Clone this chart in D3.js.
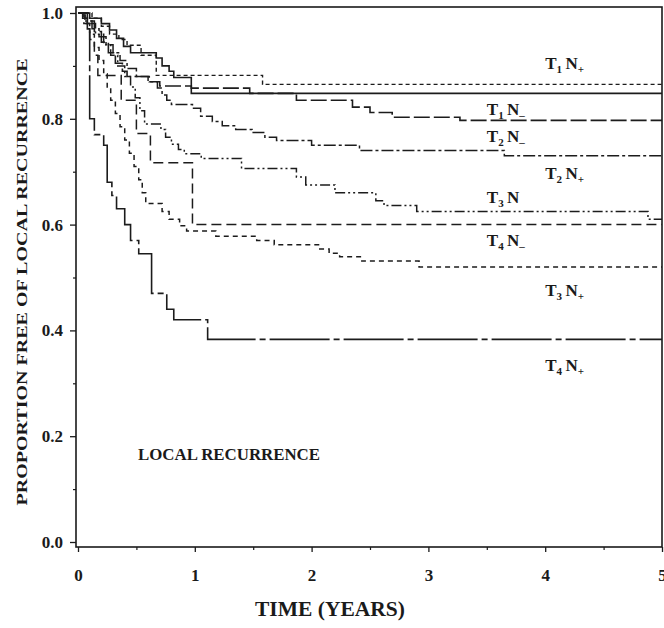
<!DOCTYPE html>
<html><head><meta charset="utf-8">
<script src="https://cdn.jsdelivr.net/npm/d3@7"></script>
<style>
body{margin:0;background:#fff}
svg{display:block}
text{font-family:"Liberation Serif","DejaVu Serif",serif;font-weight:bold;fill:#1a1a1a}
</style>
</head><body>
<svg id="c" width="664" height="628"></svg>
<script>
// ---- data ----
const xTicks = [0, 1, 2, 3, 4, 5];
const xMinorTicks = [0.5, 1.5, 2.5, 3.5, 4.5];
const yTicks = [0, 0.2, 0.4, 0.6, 0.8, 1.0];
const yMinorTicks = [0.1, 0.3, 0.5, 0.7, 0.9];

// T1 N+ (short dash)
const t1pTime = [0, 0.12, 0.2, 0.27, 0.35, 0.42, 0.54, 0.67, 1.58, 5];
const t1pSurv = [1.0, 0.99, 0.975, 0.96, 0.95, 0.939, 0.92, 0.882, 0.865, 0.865];
// solid curve
const solidTime = [0, 0.1, 0.2, 0.27, 0.33, 0.39, 0.45, 0.67, 0.72, 0.78, 0.82, 0.97, 5];
const solidSurv = [1.0, 0.99, 0.98, 0.968, 0.952, 0.937, 0.925, 0.915, 0.9, 0.89, 0.878, 0.848, 0.848];
// T1 N- (long dash)
const t1mTime = [0, 0.08, 0.14, 0.2, 0.26, 0.32, 0.38, 0.42, 0.61, 0.7, 0.97, 1.47, 1.87, 2.35, 2.5, 2.69, 3.27, 5];
const t1mSurv = [1.0, 0.985, 0.965, 0.945, 0.925, 0.905, 0.89, 0.88, 0.87, 0.862, 0.858, 0.848, 0.835, 0.822, 0.812, 0.803, 0.797, 0.797];
// T2 N- (dash-dot)
const t2mTime = [0, 0.06, 0.12, 0.18, 0.24, 0.30, 0.36, 0.42, 0.5, 0.6, 0.68, 0.72, 0.76, 0.80, 0.98, 1.05, 1.15, 1.235, 1.35, 1.49, 1.6, 1.70, 2.0, 2.41, 3.65, 5];
const t2mSurv = [1.0, 0.985, 0.97, 0.955, 0.94, 0.925, 0.91, 0.895, 0.88, 0.87, 0.858, 0.845, 0.835, 0.827, 0.82, 0.805, 0.795, 0.787, 0.78, 0.774, 0.765, 0.759, 0.75, 0.74, 0.73, 0.73];
// T3 N (dash-dot-dot)
const t3Time = [0, 0.08, 0.15, 0.22, 0.28, 0.34, 0.40, 0.45, 0.49, 0.53, 0.57, 0.71, 0.75, 0.80, 0.86, 0.91, 1.055, 1.40, 1.87, 1.95, 2.2, 2.55, 2.62, 2.9, 4.88, 5];
const t3Surv = [1.0, 0.98, 0.96, 0.94, 0.92, 0.90, 0.88, 0.86, 0.84, 0.815, 0.79, 0.78, 0.765, 0.752, 0.742, 0.734, 0.725, 0.706, 0.69, 0.675, 0.66, 0.645, 0.636, 0.625, 0.61, 0.61];
// T4 N- (dashed)
const t4mTime = [0, 0.05, 0.1, 0.14, 0.17, 0.37, 0.50, 0.62, 0.98, 5];
const t4mSurv = [1.0, 0.98, 0.95, 0.92, 0.882, 0.835, 0.772, 0.717, 0.60, 0.60];
// T3 N+ (short dashed)
const t3pTime = [0, 0.06, 0.10, 0.14, 0.18, 0.22, 0.25, 0.28, 0.32, 0.36, 0.40, 0.44, 0.48, 0.52, 0.55, 0.58, 0.72, 0.78, 0.87, 0.93, 1.18, 1.53, 1.68, 2.07, 2.15, 2.24, 2.43, 2.92, 5];
const t3pSurv = [1.0, 0.98, 0.96, 0.935, 0.91, 0.885, 0.86, 0.835, 0.81, 0.785, 0.76, 0.735, 0.71, 0.685, 0.66, 0.64, 0.625, 0.61, 0.598, 0.588, 0.578, 0.57, 0.562, 0.554, 0.546, 0.539, 0.531, 0.52, 0.52];
// T4 N+ (solid with breaks)
const t4pTime = [0, 0.04, 0.08, 0.1, 0.14, 0.22, 0.25, 0.29, 0.33, 0.40, 0.45, 0.52, 0.63, 0.76, 0.82, 1.11, 5];
const t4pSurv = [1.0, 0.99, 0.97, 0.80, 0.77, 0.75, 0.68, 0.655, 0.63, 0.60, 0.57, 0.545, 0.47, 0.44, 0.42, 0.383, 0.383];

const curveLabels = [
  {T: "1", N: "+", lx: 4.0, ly: 0.895},
  {T: "1", N: "\u2013", lx: 3.5, ly: 0.807},
  {T: "2", N: "\u2013", lx: 3.5, ly: 0.756},
  {T: "2", N: "+", lx: 4.0, ly: 0.687},
  {T: "3", N: "",  lx: 3.5, ly: 0.640},
  {T: "4", N: "\u2013", lx: 3.5, ly: 0.560},
  {T: "3", N: "+", lx: 4.0, ly: 0.465},
  {T: "4", N: "+", lx: 4.0, ly: 0.323}
];
const yTitle = "PROPORTION FREE OF LOCAL RECURRENCE";
const xTitle = "TIME (YEARS)";
const innerTitle = "LOCAL RECURRENCE";

// ---- drawing ----
const svg = d3.select("#c");
svg.append("rect").attr("width", 664).attr("height", 628).attr("fill", "#fff");

const x = d3.scaleLinear().domain([0, 5]).range([78, 662]);
const y = d3.scaleLinear().domain([0, 1]).range([542, 13]);

const frameL = 76, frameR = 662, frameT = 7, frameB = 547;

// frame
svg.append("rect").attr("x", frameL).attr("y", frameT)
  .attr("width", frameR - frameL).attr("height", frameB - frameT)
  .attr("fill", "none").attr("stroke", "#1a1a1a").attr("stroke-width", 1.6);

// y axis
const gy = svg.append("g").attr("transform", `translate(${frameL},0)`)
  .call(d3.axisLeft(y).tickValues(yTicks).tickSize(6).tickPadding(7).tickFormat(d3.format(".1f")));
gy.select(".domain").remove();
gy.selectAll("text").style("font-size", "17px").attr("font-family", null);
gy.selectAll("line").attr("stroke", "#1a1a1a").attr("stroke-width", 1.3);
const gym = svg.append("g").attr("transform", `translate(${frameL},0)`)
  .call(d3.axisLeft(y).tickValues(yMinorTicks).tickSize(3).tickFormat(""));
gym.select(".domain").remove();
gym.selectAll("line").attr("stroke", "#1a1a1a").attr("stroke-width", 1.2);

// x axis
const gx = svg.append("g").attr("transform", `translate(0,${frameB})`)
  .call(d3.axisBottom(x).tickValues(xTicks).tickSize(5).tickPadding(17).tickFormat(d3.format("d")));
gx.select(".domain").remove();
gx.selectAll("text").style("font-size", "17px").attr("font-family", null);
gx.selectAll("line").attr("stroke", "#1a1a1a").attr("stroke-width", 1.3);
const gxm = svg.append("g").attr("transform", `translate(0,${frameB})`)
  .call(d3.axisBottom(x).tickValues(xMinorTicks).tickSize(3).tickFormat(""));
gxm.select(".domain").remove();
gxm.selectAll("line").attr("stroke", "#1a1a1a").attr("stroke-width", 1.2);

// curves
const series = [
  {t: t1pTime, s: t1pSurv, dash: "4,3", w: 1.4},
  {t: solidTime, s: solidSurv, dash: null, w: 1.6},
  {t: t1mTime, s: t1mSurv, dash: "16,4", w: 1.6},
  {t: t2mTime, s: t2mSurv, dash: "12,3,3,3", w: 1.5},
  {t: t3Time, s: t3Surv, dash: "10,3,2,3,2,3", w: 1.5},
  {t: t4mTime, s: t4mSurv, dash: "10,5", w: 1.5},
  {t: t3pTime, s: t3pSurv, dash: "5,4", w: 1.5},
  {t: t4pTime, s: t4pSurv, dash: "60,4,6,4", w: 1.6}
];
const line = d3.line().curve(d3.curveStepAfter).x(d => x(d[0])).y(d => y(d[1]));
series.forEach(sr => {
  const pts = sr.t.map((t, j) => [t, sr.s[j]]);
  svg.append("path").datum(pts)
    .attr("d", line)
    .attr("fill", "none")
    .attr("stroke", "#1c1c1c")
    .attr("stroke-width", sr.w)
    .attr("stroke-dasharray", sr.dash);
});

// curve labels
curveLabels.forEach(l => {
  const t = svg.append("text").attr("x", x(l.lx)).attr("y", y(l.ly)).style("font-size", "17px");
  t.append("tspan").text("T");
  t.append("tspan").attr("dy", 4).style("font-size", "11px").text(l.T);
  t.append("tspan").attr("dy", -4).text("\u2009N");
  if (l.N) t.append("tspan").attr("dy", 4).style("font-size", "11px").text(l.N);
});

// titles
svg.append("text").attr("transform", "translate(27,282) rotate(-90)")
  .attr("text-anchor", "middle").style("font-size", "15px")
  .attr("textLength", 447).attr("lengthAdjust", "spacingAndGlyphs").text(yTitle);
svg.append("text").attr("x", 330).attr("y", 616).attr("text-anchor", "middle")
  .style("font-size", "20px").attr("textLength", 150).attr("lengthAdjust", "spacingAndGlyphs").text(xTitle);
svg.append("text").attr("x", 138).attr("y", 460)
  .style("font-size", "16px").attr("textLength", 182).attr("lengthAdjust", "spacingAndGlyphs").text(innerTitle);
</script>
</body></html>
